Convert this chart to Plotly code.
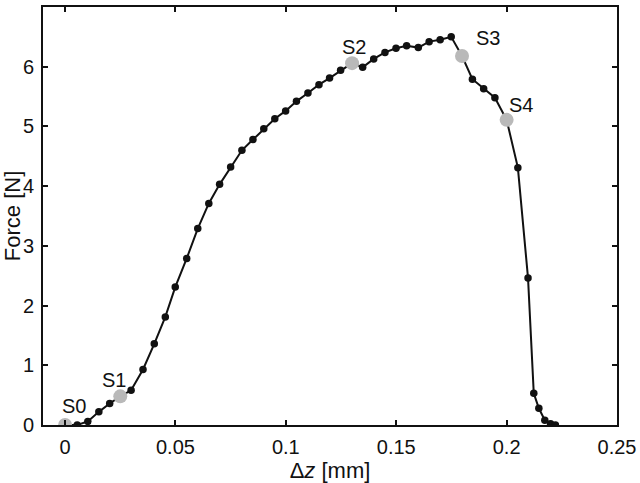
import plotly.graph_objects as go

# measured curve (Δz in mm, Force in N)
dz = [0.0, 0.0055, 0.0103, 0.0153, 0.0202, 0.025, 0.0299, 0.0353, 0.0404, 0.0454,
      0.0499, 0.0551, 0.0601, 0.0651, 0.070, 0.075, 0.0801, 0.0851, 0.090, 0.095,
      0.0999, 0.1048, 0.110, 0.115, 0.1198, 0.1248, 0.130, 0.1348, 0.1398, 0.1449,
      0.1499, 0.1547, 0.160, 0.1649, 0.1699, 0.1749, 0.1798, 0.1845, 0.1896, 0.1947,
      0.200, 0.2051, 0.2097, 0.2123, 0.2146, 0.2173, 0.2199, 0.2221]
force = [0.0, 0.0, 0.06, 0.22, 0.36, 0.48, 0.58, 0.93, 1.36, 1.81,
         2.31, 2.79, 3.29, 3.71, 4.03, 4.32, 4.60, 4.78, 4.96, 5.13,
         5.26, 5.42, 5.56, 5.70, 5.81, 5.94, 6.06, 5.99, 6.13, 6.24,
         6.31, 6.35, 6.32, 6.42, 6.45, 6.50, 6.18, 5.79, 5.63, 5.48,
         5.11, 4.31, 2.46, 0.53, 0.28, 0.08, 0.02, 0.0]

# highlighted states
state_labels = ["S0", "S1", "S2", "S3", "S4"]
state_dz = [0.0, 0.025, 0.130, 0.1798, 0.200]
state_force = [0.0, 0.48, 6.06, 6.18, 5.11]
label_shift = [(9, 19), (-6, 16), (2, 16), (26, 18), (14, 15)]

x_ticks = [0, 0.05, 0.1, 0.15, 0.2, 0.25]
x_ticktext = ["0", "0.05", "0.1", "0.15", "0.2", "0.25"]
y_ticks = [0, 1, 2, 3, 4, 5, 6, 7]

FONT = "Liberation Sans, Arial, Helvetica, sans-serif"
FS = 20
FS_TITLE = 22

fig = go.Figure()
fig.add_trace(go.Scatter(
    x=dz, y=force, mode="lines+markers",
    line=dict(color="#111111", width=2),
    marker=dict(color="#111111", size=7.5),
    showlegend=False, hoverinfo="skip"))
fig.add_trace(go.Scatter(
    x=state_dz, y=state_force, mode="markers",
    marker=dict(color="#b9b9b9", size=14),
    showlegend=False, hoverinfo="skip"))

for lab, sx, sy, (dx, dy) in zip(state_labels, state_dz, state_force, label_shift):
    fig.add_annotation(x=sx, y=sy, text=lab, showarrow=False,
                       xshift=dx, yshift=dy, xanchor="center", yanchor="middle",
                       font=dict(family=FONT, size=FS, color="#111111"))

fig.update_layout(
    width=640, height=483,
    margin=dict(l=43, r=23, t=7, b=58),
    paper_bgcolor="white", plot_bgcolor="white",
    font=dict(family=FONT, size=FS, color="#111111"),
)
fig.update_xaxes(
    range=[-0.01, 0.25], tickvals=x_ticks, ticktext=x_ticktext,
    ticks="inside", ticklen=5, tickwidth=1.5, tickcolor="#111111",
    ticklabelstandoff=3, automargin=False,
    showline=True, linecolor="#111111", linewidth=2, mirror="ticks",
    showgrid=False, zeroline=False,
    title=dict(text="Δ<i>z</i> [mm]", standoff=3, font=dict(size=FS_TITLE)),
)
fig.update_yaxes(
    range=[0, 7], tickvals=y_ticks,
    ticks="inside", ticklen=5, tickwidth=1.5, tickcolor="#111111",
    ticklabelstandoff=3, automargin=False,
    showline=True, linecolor="#111111", linewidth=2, mirror="ticks",
    showgrid=False, zeroline=False,
    title=dict(text="Force [N]", standoff=2, font=dict(size=FS_TITLE)),
)

fig.write_html("out.html")
